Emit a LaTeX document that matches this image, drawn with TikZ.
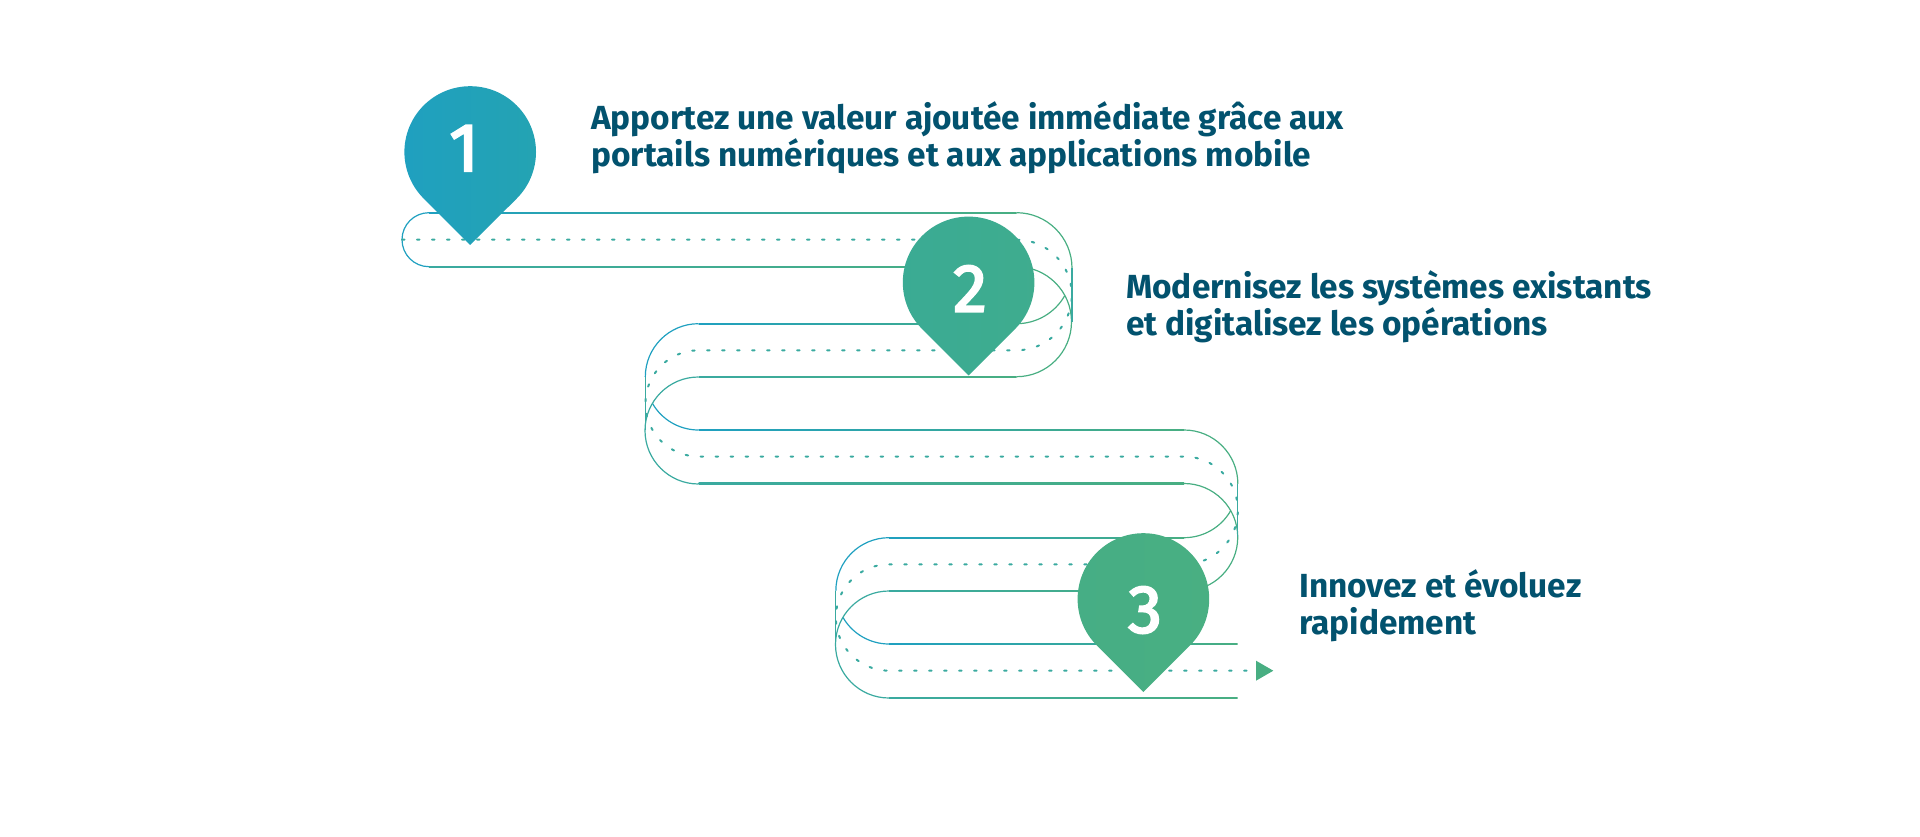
\documentclass[tikz,border=0pt]{standalone}
\usepackage{fontspec}
\setmainfont{Fira Sans}
\newfontfamily\pinfont[FakeBold=3]{Fira Sans}
\usetikzlibrary{calc}

\definecolor{titleblue}{HTML}{02526E}
\definecolor{lineblue}{HTML}{1FA0C0}
\definecolor{lineteal}{HTML}{3AAAA0}
\definecolor{linegreen}{HTML}{48AE82}

\tikzset{
  ribbon/.style={line width=1.2pt},
  dots/.style={line width=2pt,line cap=round,dash pattern=on 2.5pt off 12.5pt,color=lineteal},
  steptext/.style={anchor=north west,align=left,inner sep=0pt,text=titleblue,font=\fontsize{33.4}{37.5}\selectfont\bfseries},
  pinnum/.style={anchor=base,inner sep=0pt,text=white,font=\fontsize{68}{68}\pinfont}
}

% straight edge of the ribbon, with its colour running left to right
\newcommand{\edge}[4]{\shade[left color=#4,right color=linegreen] (#1,#3-0.6) rectangle (#2,#3+0.6);}

\begin{document}
\begin{tikzpicture}[x=1pt,y=1pt]
  \useasboundingbox (0,0) rectangle (1920,-837);

  % Define the coordinates of the bends
  \coordinate (a) at (429,-212.7);
  \coordinate (b) at (429,-266.7);
  \coordinate (c) at (1016.5,-212.7);
  \coordinate (d) at (1016.5,-266.7);
  \coordinate (e) at (1016.5,-323.7);
  \coordinate (f) at (698.5,-323.7);
  \coordinate (g) at (698.5,-377);
  \coordinate (h) at (698.5,-430);
  \coordinate (i) at (1184,-430);
  \coordinate (j) at (1184,-483.5);
  \coordinate (k) at (1184,-537.7);
  \coordinate (l) at (889,-537.7);
  \coordinate (m) at (889,-591);
  \coordinate (n) at (889,-644);

  % Draw the straight edges
  \edge{429}{1016.5}{-212.7}{lineblue}
  \edge{429}{1016.5}{-266.7}{lineteal}
  \edge{698.5}{1016.5}{-323.7}{lineblue}
  \edge{698.5}{1016.5}{-377}{lineteal}
  \edge{698.5}{1184}{-430}{lineblue}
  \edge{698.5}{1184}{-483.5}{lineteal}
  \edge{889}{1184}{-537.7}{lineblue}
  \edge{889}{1184}{-591}{lineteal}
  \edge{889}{1237.5}{-644}{lineblue}
  \edge{889}{1237.5}{-698}{lineteal}

  % Draw the bends: the outer arc, then the inner one up to the crossing
  \draw[ribbon,lineblue] (a) arc[start angle=90,end angle=270,radius=27pt];
  \draw[ribbon,linegreen] (c) arc[start angle=90,end angle=0,radius=55.5pt];
  \draw[ribbon,linegreen] (e) arc[start angle=-90,end angle=-30,radius=55.5pt];
  \draw[ribbon,linegreen] (d) arc[start angle=90,end angle=-90,radius=55pt];
  \draw[ribbon,lineblue] (f) arc[start angle=90,end angle=180,radius=53.2pt];
  \draw[ribbon,lineblue] (h) arc[start angle=270,end angle=210,radius=53.2pt];
  \draw[ribbon,lineteal] (g) arc[start angle=90,end angle=270,radius=53.5pt];
  \draw[ribbon,linegreen] (i) arc[start angle=90,end angle=0,radius=53.85pt];
  \draw[ribbon,linegreen] (k) arc[start angle=-90,end angle=-30,radius=53.85pt];
  \draw[ribbon,linegreen] (j) arc[start angle=90,end angle=-90,radius=53.75pt];
  \draw[ribbon,lineblue] (l) arc[start angle=90,end angle=180,radius=53.15pt];
  \draw[ribbon,lineblue] (n) arc[start angle=270,end angle=210,radius=53.15pt];
  \draw[ribbon,lineteal] (m) arc[start angle=90,end angle=270,radius=53.5pt];

  % Vertical links
  \draw[ribbon,lineteal] (1072,-268) -- (1072,-322);
  \draw[ribbon,lineteal] (645.3,-377) -- (645.3,-430);
  \draw[ribbon,lineteal] (1237.85,-484) -- (1237.85,-537);
  \draw[ribbon,lineteal] (835.85,-591) -- (835.85,-644);

  % Dotted middle line
  \draw[dots] (402,-239.7) -- (1016.5,-239.7)
    arc[start angle=90,end angle=-90,radius=55.3pt] -- (698.5,-350.3)
    arc[start angle=90,end angle=270,radius=53.1pt] -- (1184,-456.5)
    arc[start angle=90,end angle=-90,radius=53.9pt] -- (889,-564.3)
    arc[start angle=90,end angle=270,radius=53.2pt] -- (1247,-670.7);
  \fill[linegreen] (1256,-660.7) -- (1273.3,-670.7) -- (1256,-680.7) -- cycle;

  % Pins
  \foreach \name/\px/\py/\cola/\colb in {one/470.2/-152/1FA0C0/24A3B2,two/968.6/-282.4/3AAB94/3FAC8E,three/1143.4/-599/46AE85/49AF82} {
    \definecolor{pinleft}{HTML}{\cola}
    \definecolor{pinright}{HTML}{\colb}
    \coordinate (\name) at (\px,\py);
    \shade[left color=pinleft,right color=pinright]
      ($(\name)+(-45:65.8)$) arc[start angle=-45,end angle=225,radius=65.8pt]
      -- ($(\name)+(0,-93)$) -- cycle;
  }
  \node[pinnum] (num1) at (464,-171) {1};
  \node[pinnum] (num2) at (970,-311.7) {2};
  \node[pinnum] (num3) at (1145,-632.7) {3};

  % Step texts
  \node[steptext] (step1) at (591,-101.2) {Apportez une valeur ajoutée immédiate grâce aux\\portails numériques et aux applications mobile};
  \node[steptext] (step2) at (1126,-270.2) {Modernisez les systèmes existants\\et digitalisez les opérations};
  \node[steptext] (step3) at (1299,-569.2) {Innovez et évoluez\\rapidement};
\end{tikzpicture}
\end{document}
